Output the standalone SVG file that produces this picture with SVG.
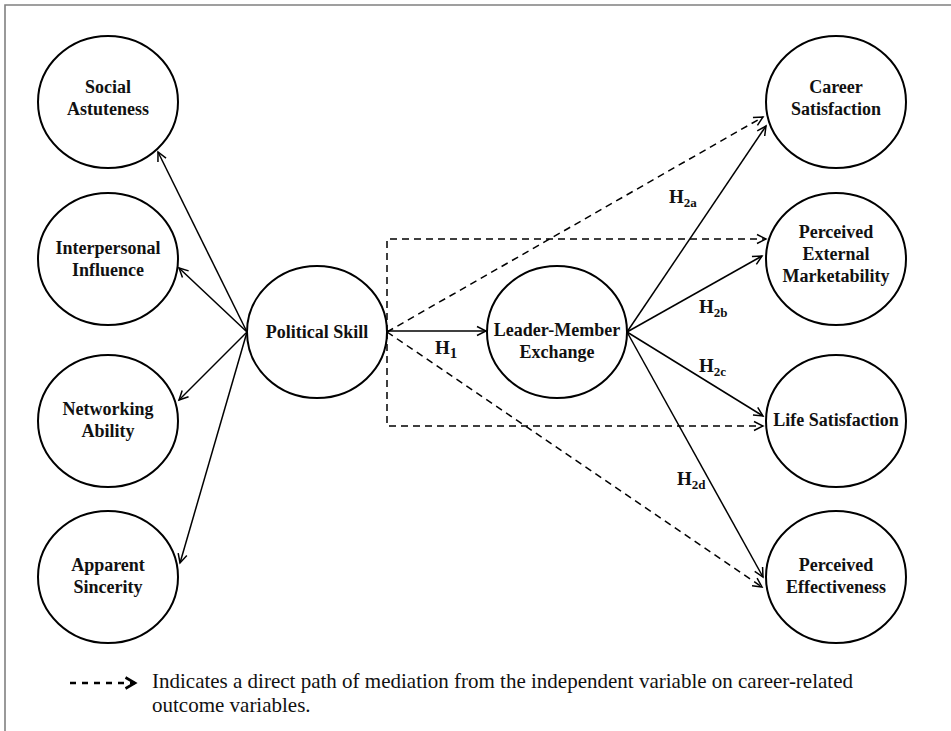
<svg xmlns="http://www.w3.org/2000/svg" width="951" height="731" viewBox="0 0 951 731">
<style>
.node ellipse{fill:#fff;stroke:#000;stroke-width:2}
.lbl{font-family:"Liberation Serif","Times New Roman",serif;font-weight:bold;font-size:18px;fill:#111;text-anchor:middle}
.h{font-family:"Liberation Serif","Times New Roman",serif;font-weight:bold;font-size:19px;fill:#111}
.sub{font-size:13px}
.solid{fill:none;stroke:#000;stroke-width:1.5;marker-end:url(#arr)}
.dash{fill:none;stroke:#000;stroke-width:1.5;stroke-dasharray:7 5;marker-end:url(#arr)}
.note{font-family:"Liberation Serif","Times New Roman",serif;font-size:21px;fill:#111}
</style>
<defs>
<marker id="arr" markerUnits="userSpaceOnUse" markerWidth="14" markerHeight="14" refX="10" refY="6" orient="auto">
<path d="M1,1.5 L10,6 L1,10.5" fill="none" stroke="#000" stroke-width="1.5"/>
</marker>
<marker id="arrb" markerUnits="userSpaceOnUse" markerWidth="16" markerHeight="16" refX="11" refY="7" orient="auto">
<path d="M1.5,1.5 L11,7 L1.5,12.5" fill="none" stroke="#000" stroke-width="2.6"/>
</marker>
</defs>
<rect width="951" height="731" fill="#fff"/>
<path d="M5,731 V5 H951" fill="none" stroke="#808080" stroke-width="1.6"/>

<g id="connectors">
<line class="solid" x1="247" y1="332" x2="158" y2="152"/>
<line class="solid" x1="247" y1="332" x2="179" y2="268"/>
<line class="solid" x1="247" y1="332" x2="179" y2="400"/>
<line class="solid" x1="247" y1="332" x2="180" y2="563"/>
<line class="solid" x1="387" y1="331" x2="486" y2="331"/>
<line class="solid" x1="627" y1="332" x2="766" y2="126"/>
<line class="solid" x1="627" y1="332" x2="762" y2="256"/>
<line class="solid" x1="627" y1="332" x2="763" y2="416"/>
<line class="solid" x1="627" y1="332" x2="763" y2="577"/>
<line class="dash" x1="387" y1="332" x2="763" y2="117"/>
<line class="dash" x1="387" y1="332" x2="762" y2="587"/>
<polyline class="dash" points="387,332 387,239 766,239"/>
<polyline class="dash" points="387,332 387,426 763,426"/>
</g>

<g id="hyp-labels">
<text class="h" x="435" y="354">H<tspan class="sub" style="font-size:15px" dy="4">1</tspan></text>
<text class="h" x="669" y="203">H<tspan class="sub" dy="4">2a</tspan></text>
<text class="h" x="699" y="313">H<tspan class="sub" dy="4">2b</tspan></text>
<text class="h" x="699" y="372">H<tspan class="sub" dy="4">2c</tspan></text>
<text class="h" x="677" y="485">H<tspan class="sub" dy="4">2d</tspan></text>
</g>

<g id="social-astuteness" class="node">
<ellipse cx="108" cy="102" rx="70" ry="66"/>
<text class="lbl" x="108" y="93">Social</text>
<text class="lbl" x="108" y="115">Astuteness</text>
</g>
<g id="interpersonal-influence" class="node">
<ellipse cx="108" cy="259" rx="70" ry="66"/>
<text class="lbl" x="108" y="254">Interpersonal</text>
<text class="lbl" x="108" y="276">Influence</text>
</g>
<g id="networking-ability" class="node">
<ellipse cx="108" cy="421" rx="70" ry="66"/>
<text class="lbl" x="108" y="415">Networking</text>
<text class="lbl" x="108" y="437">Ability</text>
</g>
<g id="apparent-sincerity" class="node">
<ellipse cx="108" cy="577" rx="70" ry="66"/>
<text class="lbl" x="108" y="571">Apparent</text>
<text class="lbl" x="108" y="593">Sincerity</text>
</g>
<g id="political-skill" class="node">
<ellipse cx="317" cy="332" rx="70" ry="66"/>
<text class="lbl" x="317" y="338">Political Skill</text>
</g>
<g id="lmx" class="node">
<ellipse cx="557" cy="332" rx="70" ry="66"/>
<text class="lbl" x="557" y="336">Leader-Member</text>
<text class="lbl" x="557" y="358">Exchange</text>
</g>
<g id="career-satisfaction" class="node">
<ellipse cx="836" cy="102" rx="70" ry="66"/>
<text class="lbl" x="836" y="93">Career</text>
<text class="lbl" x="836" y="115">Satisfaction</text>
</g>
<g id="perceived-external-marketability" class="node">
<ellipse cx="836" cy="259" rx="70" ry="66"/>
<text class="lbl" x="836" y="238">Perceived</text>
<text class="lbl" x="836" y="260">External</text>
<text class="lbl" x="836" y="282">Marketability</text>
</g>
<g id="life-satisfaction" class="node">
<ellipse cx="836" cy="421" rx="70" ry="66"/>
<text class="lbl" x="836" y="426">Life Satisfaction</text>
</g>
<g id="perceived-effectiveness" class="node">
<ellipse cx="836" cy="577" rx="70" ry="66"/>
<text class="lbl" x="836" y="571">Perceived</text>
<text class="lbl" x="836" y="593">Effectiveness</text>
</g>

<g id="legend">
<line x1="70" y1="683" x2="135" y2="683" fill="none" stroke="#000" stroke-width="2.5" stroke-dasharray="6 6" marker-end="url(#arrb)"/>
<text class="note" x="152" y="688">Indicates a direct path of mediation from the independent variable on career-related</text>
<text class="note" x="152" y="712">outcome variables.</text>
</g>
</svg>
